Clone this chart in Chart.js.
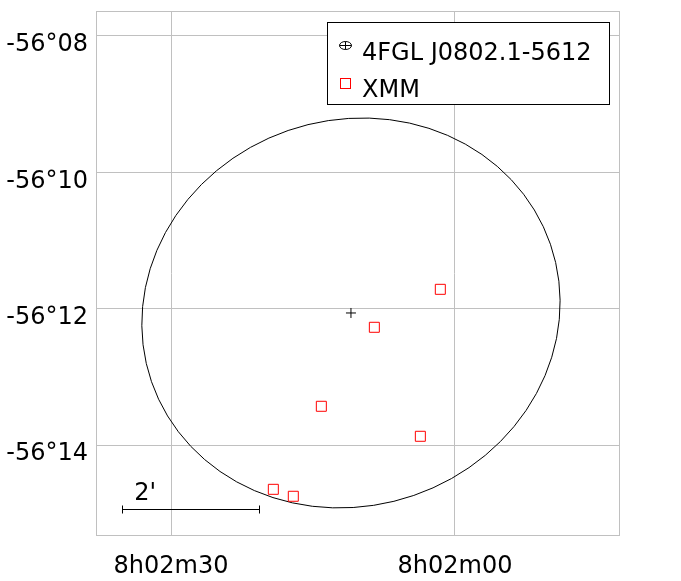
<!DOCTYPE html>
<html>
<head>
<meta charset="utf-8">
<script src="https://cdn.jsdelivr.net/npm/chart.js@4/dist/chart.umd.min.js"></script>
<style>
  html, body { margin: 0; padding: 0; background: #ffffff; }
  canvas { display: block; }
</style>
</head>
<body>
<canvas id="c" width="681" height="581"></canvas>
<script>
// ---- data (RA: seconds after 8h02m00, Dec: arcmin below -56°, stored negative) ----
const raTickValues = [30, 0];
const raTickLabels = ['8h02m30', '8h02m00'];
const decTickValues = [-8, -10, -12, -14];
const decTickLabels = ['-56°08', '-56°10', '-56°12', '-56°14'];

const fglLabel = '4FGL J0802.1-5612';
const fglRA = [10.99];
const fglDec = [-12.063];

const xmmLabel = 'XMM';
const xmmRA = [1.55, 8.52, 14.12, 3.66, 19.19, 17.08];
const xmmDec = [-11.716, -12.273, -13.432, -13.872, -14.650, -14.752];

// 95% error ellipse of the 4FGL source (arcmin, degrees)
const ellipseSemiMajor = 3.095;
const ellipseSemiMinor = 2.831;
const ellipseAngleDeg = 19;

// scale bar
const scaleBarRA = [35.14];
const scaleBarDec = [-14.94];
const scaleBarLength = [2];
const scaleBarLabel = "2'";

const FONT = "'DejaVu Sans', 'Liberation Sans', sans-serif";
const GRID = '#c0c0c0';

function pxPerArcmin(chart) {
  const y = chart.scales.y;
  return Math.abs(y.getPixelForValue(0) - y.getPixelForValue(1));
}

const decor = {
  id: 'decor',
  beforeDatasetsDraw(chart) {
    const ctx = chart.ctx;
    const xs = chart.scales.x, ys = chart.scales.y;
    const ppa = pxPerArcmin(chart);
    const cx = xs.getPixelForValue(fglRA[0]);
    const cy = ys.getPixelForValue(fglDec[0]);
    ctx.save();
    ctx.beginPath();
    ctx.ellipse(cx, cy, ellipseSemiMajor * ppa, ellipseSemiMinor * ppa,
                -ellipseAngleDeg * Math.PI / 180, 0, 2 * Math.PI);
    ctx.strokeStyle = '#000000';
    ctx.lineWidth = 1;
    ctx.stroke();
    ctx.restore();
  },
  afterDraw(chart) {
    const ctx = chart.ctx;
    const a = chart.chartArea;
    const xs = chart.scales.x, ys = chart.scales.y;
    ctx.save();
    // frame
    ctx.strokeStyle = GRID;
    ctx.lineWidth = 1;
    ctx.strokeRect(a.left - 0.5, a.top - 0.5, a.right - a.left + 1, a.bottom - a.top + 1);

    // scale bar
    const ppa = pxPerArcmin(chart);
    const bx = xs.getPixelForValue(scaleBarRA[0]);
    const by = Math.round(ys.getPixelForValue(scaleBarDec[0])) + 0.5;
    const bl = scaleBarLength[0] * ppa;
    ctx.strokeStyle = '#000000';
    ctx.beginPath();
    ctx.moveTo(Math.round(bx) + 0.5, by); ctx.lineTo(Math.round(bx + bl) + 0.5, by);
    ctx.moveTo(Math.round(bx) + 0.5, by - 4); ctx.lineTo(Math.round(bx) + 0.5, by + 4);
    ctx.moveTo(Math.round(bx + bl) + 0.5, by - 4); ctx.lineTo(Math.round(bx + bl) + 0.5, by + 4);
    ctx.stroke();
    ctx.fillStyle = '#000000';
    ctx.font = '24px ' + FONT;
    ctx.textAlign = 'left';
    ctx.textBaseline = 'alphabetic';
    ctx.fillText(scaleBarLabel, bx + 12, by - 10);

    // legend
    const lx = 327.5, ly = 22.5, lw = 282, lh = 82;
    ctx.fillStyle = '#ffffff';
    ctx.fillRect(lx, ly, lw, lh);
    ctx.strokeStyle = '#000000';
    ctx.strokeRect(lx, ly, lw, lh);
    const ds = chart.data.datasets;
    // 4FGL marker: small ellipse with cross
    ctx.beginPath();
    ctx.ellipse(345.5, 45.5, 6, 4, 0, 0, 2 * Math.PI);
    ctx.moveTo(339.5, 45.5); ctx.lineTo(351.5, 45.5);
    ctx.moveTo(345.5, 41.5); ctx.lineTo(345.5, 49.5);
    ctx.strokeStyle = ds[0].borderColor;
    ctx.stroke();
    // XMM marker
    ctx.strokeStyle = ds[1].borderColor;
    ctx.strokeRect(340.5, 78.5, 10, 10);
    ctx.fillStyle = '#000000';
    ctx.font = '24px ' + FONT;
    ctx.fillText(ds[0].label, 362, 60);
    ctx.fillText(ds[1].label, 362, 97);
    ctx.restore();
  }
};

const chart = new Chart(document.getElementById('c'), {
  type: 'scatter',
  data: {
    datasets: [
      {
        label: fglLabel,
        data: fglRA.map((v, i) => ({ x: v, y: fglDec[i] })),
        pointStyle: 'cross',
        pointRadius: 5,
        borderColor: '#000000',
        borderWidth: 1,
        backgroundColor: 'rgba(0,0,0,0)'
      },
      {
        label: xmmLabel,
        data: xmmRA.map((v, i) => ({ x: v, y: xmmDec[i] })),
        pointStyle: 'rect',
        pointRadius: 7.07,
        borderColor: '#ff0000',
        borderWidth: 1,
        backgroundColor: 'rgba(0,0,0,0)'
      }
    ]
  },
  options: {
    responsive: false,
    animation: false,
    layout: { padding: { top: 12, right: 62, left: 0, bottom: 0 } },
    plugins: { legend: { display: false }, tooltip: { enabled: false } },
    scales: {
      x: {
        type: 'linear',
        reverse: true,
        min: -17.324,
        max: 37.817,
        afterBuildTicks: s => { s.ticks = raTickValues.map(v => ({ value: v })); },
        afterFit: s => { s.height = 46; s.paddingLeft = 0; s.paddingRight = 0; },
        grid: { color: GRID, lineWidth: 1, drawTicks: false },
        border: { display: false },
        ticks: {
          padding: 17,
          maxRotation: 0,
          autoSkip: false,
          color: '#000000',
          font: { family: FONT, size: 24 },
          callback: v => { const i = raTickValues.indexOf(v); return i >= 0 ? raTickLabels[i] : ''; }
        }
      },
      y: {
        type: 'linear',
        min: -15.320,
        max: -7.648,
        afterBuildTicks: s => { s.ticks = decTickValues.map(v => ({ value: v })); },
        afterFit: s => { s.width = 97; s.paddingTop = 0; s.paddingBottom = 0; },
        grid: { color: GRID, lineWidth: 1, drawTicks: false },
        border: { display: false },
        ticks: {
          padding: 9,
          labelOffset: 9,
          autoSkip: false,
          color: '#000000',
          font: { family: FONT, size: 24 },
          callback: v => { const i = decTickValues.indexOf(v); return i >= 0 ? decTickLabels[i] : ''; }
        }
      }
    }
  },
  plugins: [decor]
});
</script>
</body>
</html>
